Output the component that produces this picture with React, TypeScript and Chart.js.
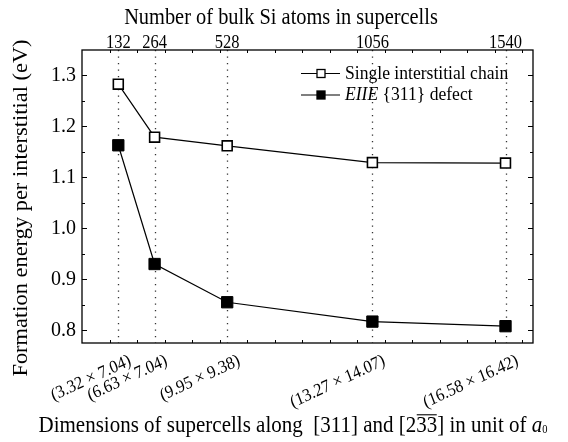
import React, { useEffect, useRef } from 'react';
import { Chart, registerables } from 'chart.js';

Chart.register(...registerables);

const atoms = [132, 264, 528, 1056, 1540];
const dimLabels = ['(3.32 × 7.04)', '(6.63 × 7.04)', '(9.95 × 9.38)', '(13.27 × 14.07)', '(16.58 × 16.42)'];
const singleChain = [1.283, 1.179, 1.162, 1.129, 1.128];
const eiieDefect = [1.163, 0.93, 0.855, 0.817, 0.808];
const yTickValues = [0.8, 0.9, 1.0, 1.1, 1.2, 1.3];
const yMinorValues = [0.85, 0.95, 1.05, 1.15, 1.25];
const xMinorValues = [100, 200, 300, 400, 500, 600, 700, 800, 900, 1000, 1100, 1200, 1300, 1400, 1500, 1600];
const seriesNames = ['Single interstitial chain', 'EIIE {311} defect'];
const topTitle = 'Number of bulk Si atoms in supercells';
const yTitle = 'Formation energy per interstitial (eV)';

const FONT = "'Liberation Serif', 'Times New Roman', serif";
const K = 1.1; // vertical stretch of the reference's lettering

function txt(
  ctx: CanvasRenderingContext2D,
  s: string,
  x: number,
  y: number,
  size: number,
  align: CanvasTextAlign = 'left',
  baseline: CanvasTextBaseline = 'alphabetic',
  rot = 0,
  style = ''
) {
  ctx.save();
  ctx.translate(x, y);
  ctx.scale(1, K);
  ctx.rotate(rot);
  ctx.font = `${style} ${size}px ${FONT}`;
  ctx.textAlign = align;
  ctx.textBaseline = baseline;
  ctx.fillStyle = '#000';
  ctx.fillText(s, 0, 0);
  ctx.restore();
}

const framePlugin = {
  id: 'framePlugin',
  beforeDatasetsDraw(chart: any) {
    const { ctx, chartArea: a, scales } = chart;
    const x = scales.x;
    ctx.save();
    ctx.strokeStyle = '#333';
    ctx.lineWidth = 1.3;
    ctx.setLineDash([1.3, 5.2]);
    atoms.forEach((v) => {
      const px = Math.round(x.getPixelForValue(v)) + 0.5;
      ctx.beginPath();
      ctx.moveTo(px, a.top);
      ctx.lineTo(px, a.bottom);
      ctx.stroke();
    });
    ctx.restore();
  },
  afterDraw(chart: any) {
    const { ctx, chartArea: a, scales } = chart;
    const x = scales.x;
    const y = scales.y;
    ctx.save();
    // box
    ctx.strokeStyle = '#000';
    ctx.lineWidth = 1.3;
    ctx.strokeRect(a.left, a.top, a.right - a.left, a.bottom - a.top);
    // x minor ticks (top & bottom, inward)
    ctx.lineWidth = 1;
    xMinorValues.forEach((v) => {
      const px = Math.round(x.getPixelForValue(v)) + 0.5;
      ctx.beginPath();
      ctx.moveTo(px, a.bottom);
      ctx.lineTo(px, a.bottom - 3);
      ctx.moveTo(px, a.top);
      ctx.lineTo(px, a.top + 3);
      ctx.stroke();
    });
    // y ticks
    const yt = (vals: number[], len: number) => {
      vals.forEach((v) => {
        const py = Math.round(y.getPixelForValue(v)) + 0.5;
        ctx.beginPath();
        ctx.moveTo(a.left, py);
        ctx.lineTo(a.left + len, py);
        ctx.moveTo(a.right, py);
        ctx.lineTo(a.right - len, py);
        ctx.stroke();
      });
    };
    yt(yTickValues, 5);
    yt(yMinorValues, 3);

    // y tick labels
    yTickValues.forEach((v) => {
      txt(ctx, v.toFixed(1), a.left - 6, y.getPixelForValue(v), 20, 'right', 'middle');
    });
    // top tick labels
    atoms.forEach((v) => {
      txt(ctx, String(v), x.getPixelForValue(v), 47.5, 16.5, 'center', 'alphabetic');
    });
    // bottom rotated tick labels
    atoms.forEach((v, i) => {
      txt(ctx, dimLabels[i], x.getPixelForValue(v) + 12, 360, 16.3, 'right', 'middle', (-23 * Math.PI) / 180);
    });
    // titles
    txt(ctx, topTitle, 281, 18, 20.4, 'center', 'middle');
    txt(ctx, yTitle, 22, 208, 20.4, 'center', 'middle', -Math.PI / 2);

    // legend
    const lx0 = 301, lx1 = 340, mx = 321;
    const rows = [73.5, 95];
    ctx.lineWidth = 1.2;
    rows.forEach((ry, i) => {
      ctx.strokeStyle = '#000';
      ctx.beginPath();
      ctx.moveTo(lx0, ry);
      ctx.lineTo(lx1, ry);
      ctx.stroke();
      const s = 4;
      ctx.fillStyle = i === 0 ? '#fff' : '#000';
      ctx.fillRect(mx - s, ry - s, 2 * s, 2 * s);
      ctx.lineWidth = 1.3;
      ctx.strokeRect(mx - s, ry - s, 2 * s, 2 * s);
      ctx.lineWidth = 1.2;
    });
    const LS = 17.6;
    txt(ctx, seriesNames[0], 345, rows[0], LS, 'left', 'middle');
    const ital = seriesNames[1].slice(0, 4);
    const rest = seriesNames[1].slice(4);
    txt(ctx, ital, 345, rows[1], LS, 'left', 'middle', 0, 'italic');
    ctx.font = `italic ${LS}px ${FONT}`;
    const w1 = ctx.measureText(ital).width;
    txt(ctx, rest, 345 + w1, rows[1], LS, 'left', 'middle');

    // bottom axis title with overline and italic a0
    const base = 432;
    const fs = 21;
    const parts: { t: string; st: string; sz: number; over?: boolean; sub?: boolean }[] = [
      { t: 'Dimensions of supercells along  [311] and [2', st: '', sz: fs },
      { t: '33', st: '', sz: fs, over: true },
      { t: '] in unit of ', st: '', sz: fs },
      { t: 'a', st: 'italic', sz: fs },
      { t: '0', st: '', sz: fs * 0.5, sub: true },
    ];
    let total = 0;
    const widths = parts.map((p) => {
      ctx.font = `${p.st} ${p.sz}px ${FONT}`;
      const w = ctx.measureText(p.t).width;
      total += w;
      return w;
    });
    let cx = 293 - total / 2;
    parts.forEach((p, i) => {
      txt(ctx, p.t, cx, p.sub ? base + 1 : base, p.sz, 'left', 'alphabetic', 0, p.st);
      if (p.over) {
        ctx.strokeStyle = '#000';
        ctx.lineWidth = 1.1;
        ctx.beginPath();
        ctx.moveTo(cx + 0.5, base - fs * 0.82);
        ctx.lineTo(cx + widths[i] - 0.5, base - fs * 0.82);
        ctx.stroke();
      }
      cx += widths[i];
    });
    ctx.restore();
  },
};

export default function App() {
  const ref = useRef<HTMLCanvasElement | null>(null);
  useEffect(() => {
    if (!ref.current) return;
    const hidden = { display: false };
    const chart = new Chart(ref.current, {
      type: 'line',
      data: {
        datasets: [
          {
            label: seriesNames[0],
            data: atoms.map((a, i) => ({ x: a, y: singleChain[i] })),
            borderColor: '#000',
            borderWidth: 1.2,
            pointStyle: 'rect',
            pointRadius: 7,
            pointBackgroundColor: '#fff',
            pointBorderColor: '#000',
            pointBorderWidth: 1.6,
            xAxisID: 'x',
            yAxisID: 'y',
          },
          {
            label: seriesNames[1],
            data: atoms.map((a, i) => ({ x: a, y: eiieDefect[i] })),
            borderColor: '#000',
            borderWidth: 1.2,
            pointStyle: 'rect',
            pointRadius: 8,
            pointBackgroundColor: '#000',
            pointBorderColor: '#000',
            pointBorderWidth: 1,
            xAxisID: 'x',
            yAxisID: 'y',
          },
        ],
      },
      options: {
        animation: false,
        responsive: false,
        maintainAspectRatio: false,
        layout: { padding: { left: 0, right: 35, top: 0, bottom: 0 } },
        plugins: { legend: hidden, tooltip: { enabled: false } },
        scales: {
          x: {
            type: 'linear',
            position: 'bottom',
            min: 0,
            max: 1640,
            grid: { display: false, drawTicks: false },
            border: hidden,
            ticks: { display: false },
            afterFit: (s: any) => {
              s.height = 99;
            },
          },
          x2: {
            type: 'linear',
            position: 'top',
            min: 0,
            max: 1640,
            grid: { display: false, drawTicks: false },
            border: hidden,
            ticks: { display: false },
            afterFit: (s: any) => {
              s.height = 50;
            },
          },
          y: {
            type: 'linear',
            position: 'left',
            min: 0.775,
            max: 1.35,
            grid: { display: false, drawTicks: false },
            border: hidden,
            ticks: { display: false },
            afterFit: (s: any) => {
              s.width = 82;
            },
          },
        },
      },
      plugins: [framePlugin],
    } as any);
    return () => chart.destroy();
  }, []);
  return (
    <div style={{ position: 'fixed', left: 0, top: 0, width: 568, height: 442 }}>
      <canvas ref={ref} width={568} height={442} style={{ width: 568, height: 442, display: 'block' }} />
    </div>
  );
}
